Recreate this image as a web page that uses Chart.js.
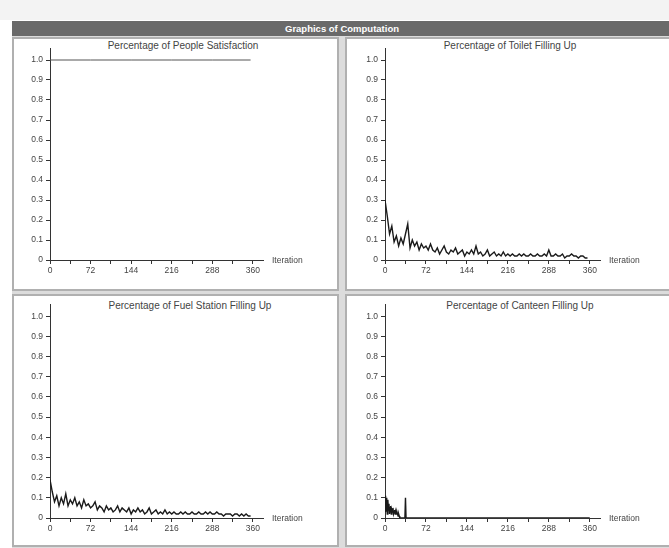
<!DOCTYPE html>
<html>
<head>
<meta charset="utf-8">
<script src="https://cdn.jsdelivr.net/npm/chart.js@4.4.0/dist/chart.umd.min.js"></script>
<style>
  body { margin: 0; width: 669px; height: 548px; background: #fff; overflow: hidden; position: relative; font-family: "Liberation Sans", Arial, sans-serif; }
  .strip { position: absolute; left: 0; top: 0; width: 669px; height: 20px; background: #f3f3f3; }
  .back { position: absolute; left: 12px; top: 36px; width: 660px; height: 512px; background: #dcdcdc; }
  .header { position: absolute; left: 12px; top: 21px; width: 660px; height: 15px; background: #6a6a6a; color: #fff;
            font-size: 9.5px; font-weight: bold; text-align: center; line-height: 15px; }
  .panel { position: absolute; box-sizing: border-box; border: 2px solid #b0b0b0; background: #fff; }
  .title { position: absolute; font-size: 10px; color: #444; white-space: nowrap; transform: translate(-50%, -50%); }
  canvas { position: absolute; }
</style>
</head>
<body>
<div class="strip"></div>
<div class="back"></div>
<div class="header">Graphics of Computation</div>

<div class="panel" style="left:12px;top:37px;width:327px;height:254px"></div>
<div class="panel" style="left:345px;top:37px;width:334px;height:254px"></div>
<div class="panel" style="left:12px;top:294px;width:327px;height:253px"></div>
<div class="panel" style="left:345px;top:294px;width:334px;height:253px"></div>

<div class="title" style="left:183px;top:45px">Percentage of People Satisfaction</div>
<div class="title" style="left:510px;top:45px">Percentage of Toilet Filling Up</div>
<div class="title" style="left:190px;top:305px">Percentage of Fuel Station Filling Up</div>
<div class="title" style="left:520px;top:305px">Percentage of Canteen Filling Up</div>

<canvas id="c1" width="323" height="250" style="left:14px;top:39px"></canvas>
<canvas id="c2" width="330" height="250" style="left:347px;top:39px"></canvas>
<canvas id="c3" width="323" height="249" style="left:14px;top:296px"></canvas>
<canvas id="c4" width="330" height="249" style="left:347px;top:296px"></canvas>

<script>
// x tick labels shown on every axis
const xTickLabels = [0, 72, 144, 216, 288, 360];

// satisfaction stays at 1.0 the whole run
const satIter = [0, 72, 144, 216, 288, 356];
const satVals = [1, 1, 1, 1, 1, 1];

// shared iteration steps for toilet and fuel station
const iterations = [
  0, 4, 8, 12, 16, 20, 24, 28, 32, 36,
  40, 44, 48, 52, 56, 60, 64, 68, 72, 76,
  80, 84, 88, 92, 96, 100, 104, 108, 112, 116,
  120, 124, 128, 132, 136, 140, 144, 148, 152, 156,
  160, 164, 168, 172, 176, 180, 184, 188, 192, 196,
  200, 204, 208, 212, 216, 220, 224, 228, 232, 236,
  240, 244, 248, 252, 256, 260, 264, 268, 272, 276,
  280, 284, 288, 292, 296, 300, 304, 308, 312, 316,
  320, 324, 328, 332, 336, 340, 344, 348, 352, 356
];

const toiletVals = [
  0.30, 0.22, 0.13, 0.17, 0.09, 0.12, 0.07, 0.11, 0.08, 0.13,
  0.18, 0.06, 0.10, 0.07, 0.09, 0.05, 0.08, 0.06, 0.07, 0.05,
  0.08, 0.05, 0.04, 0.06, 0.03, 0.05, 0.07, 0.04, 0.03, 0.05,
  0.04, 0.06, 0.03, 0.04, 0.05, 0.02, 0.04, 0.03, 0.05, 0.03,
  0.07, 0.03, 0.04, 0.02, 0.03, 0.05, 0.02, 0.03, 0.04, 0.02,
  0.03, 0.02, 0.04, 0.02, 0.03, 0.02, 0.03, 0.02, 0.02, 0.03,
  0.02, 0.03, 0.02, 0.02, 0.03, 0.02, 0.02, 0.03, 0.02, 0.02,
  0.03, 0.02, 0.05, 0.02, 0.02, 0.03, 0.02, 0.02, 0.03, 0.01,
  0.02, 0.02, 0.03, 0.02, 0.02, 0.01, 0.02, 0.02, 0.01, 0.01
];

const fuelVals = [
  0.19, 0.13, 0.08, 0.11, 0.06, 0.10, 0.07, 0.12, 0.06, 0.09,
  0.07, 0.10, 0.06, 0.08, 0.05, 0.09, 0.06, 0.07, 0.05, 0.06,
  0.08, 0.04, 0.06, 0.05, 0.03, 0.06, 0.04, 0.05, 0.03, 0.04,
  0.06, 0.03, 0.05, 0.04, 0.03, 0.05, 0.02, 0.04, 0.03, 0.05,
  0.03, 0.04, 0.02, 0.03, 0.05, 0.02, 0.03, 0.04, 0.02, 0.03,
  0.02, 0.04, 0.02, 0.03, 0.02, 0.03, 0.02, 0.02, 0.03, 0.02,
  0.03, 0.02, 0.02, 0.03, 0.02, 0.02, 0.03, 0.02, 0.02, 0.03,
  0.02, 0.03, 0.02, 0.02, 0.03, 0.02, 0.02, 0.01, 0.02, 0.02,
  0.02, 0.01, 0.02, 0.02, 0.01, 0.02, 0.01, 0.02, 0.01, 0.01
];

// canteen only fills up in the first few iterations
const canteenIter = [0, 1, 2, 3, 4, 5, 6, 7, 8, 9, 10, 11, 12, 13, 14, 15, 16, 17, 18, 19, 20, 21, 22, 23, 24, 25, 26, 35, 36, 37, 360];
const canteenVals = [0.11, 0.03, 0.10, 0.06, 0.02, 0.09, 0.04, 0.07, 0.02, 0.05, 0.06, 0.02, 0.04, 0.03, 0.05, 0.02, 0.03, 0.04, 0.02, 0.03, 0.02, 0.03, 0.02, 0.01, 0.02, 0.01, 0, 0, 0.10, 0, 0];

const iterLabel = {
  id: 'iterLabel',
  afterDraw(chart) {
    const ctx = chart.ctx, area = chart.chartArea;
    ctx.save();
    ctx.font = '8.5px "Liberation Sans", Arial, sans-serif';
    ctx.fillStyle = '#444';
    ctx.textBaseline = 'middle';
    ctx.fillText('Iteration', area.right + 9, area.bottom + 1);
    ctx.restore();
  }
};

function makeChart(id, iters, vals, pad, yWidth, lineColor, lineWidth) {
  const pts = iters.map((x, i) => ({ x: x, y: vals[i] }));
  return new Chart(document.getElementById(id), {
    type: 'line',
    data: {
      datasets: [{
        data: pts,
        borderColor: lineColor,
        borderWidth: lineWidth,
        pointRadius: 0,
        tension: 0,
        fill: false
      }]
    },
    options: {
      responsive: false,
      animation: false,
      layout: { padding: pad },
      plugins: { legend: { display: false }, tooltip: { enabled: false } },
      scales: {
        x: {
          type: 'linear',
          min: 0,
          max: 378,
          afterFit(s) { s.height = 18; },
          border: { color: '#333', width: 1 },
          grid: { drawOnChartArea: false, tickLength: 4, color: '#333' },
          ticks: {
            stepSize: 36,
            includeBounds: false,
            autoSkip: false,
            maxRotation: 0,
            padding: 2,
            color: '#444',
            font: { size: 8.5, family: '"Liberation Sans", Arial, sans-serif' },
            callback: v => xTickLabels.includes(v) ? String(v) : ''
          }
        },
        y: {
          min: 0,
          max: 1.06,
          afterFit(s) { s.width = yWidth; },
          border: { color: '#333', width: 1 },
          grid: { drawOnChartArea: false, tickLength: 4, color: '#333' },
          ticks: {
            stepSize: 0.1,
            includeBounds: false,
            autoSkip: false,
            padding: 3,
            color: '#444',
            font: { size: 8.5, family: '"Liberation Sans", Arial, sans-serif' },
            callback: v => v < 0.001 ? '0' : v.toFixed(1)
          }
        }
      }
    },
    plugins: [iterLabel]
  });
}

makeChart('c1', satIter, satVals, { left: 0, right: 74, top: 9, bottom: 11 }, 36, '#555', 1);
makeChart('c2', iterations, toiletVals, { left: 0, right: 77, top: 9, bottom: 11 }, 38, '#1a1a1a', 1.4);
makeChart('c3', iterations, fuelVals, { left: 0, right: 74, top: 5, bottom: 9 }, 36, '#1a1a1a', 1.4);
makeChart('c4', canteenIter, canteenVals, { left: 0, right: 77, top: 5, bottom: 9 }, 38, '#1a1a1a', 1.4);
</script>
</body>
</html>
